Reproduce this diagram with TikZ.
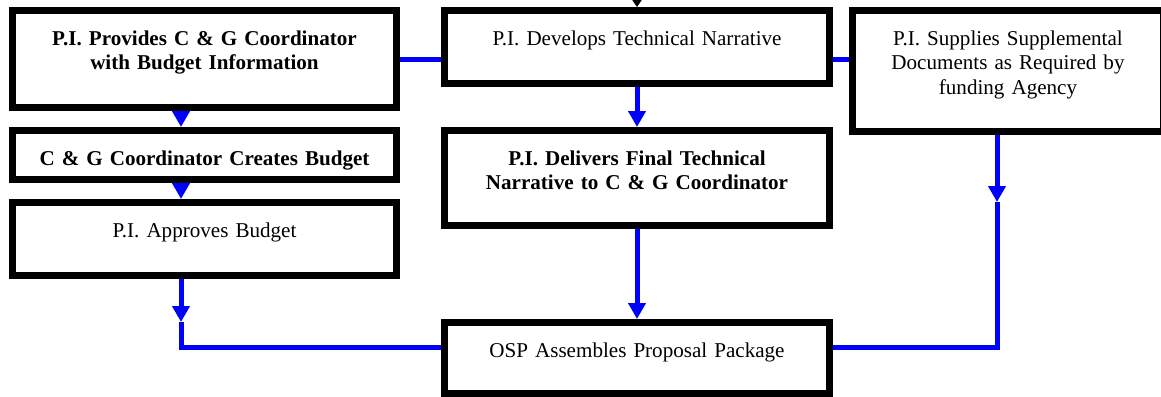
\documentclass[tikz,border=0pt]{standalone}
\usepackage{fontspec}
\setmainfont{Liberation Serif}
\usetikzlibrary{arrows.meta}

\begin{document}
\begin{tikzpicture}[x=0.2mm,y=-0.2mm,
  every node/.style={draw,line width=1.4mm,anchor=north west,inner sep=0pt,align=center,text height=0.69cm,font=\fontsize{12pt}{14.2pt}\selectfont},
  bold/.style={font=\fontsize{12pt}{14.2pt}\bfseries\selectfont},
  flow/.style={draw=blue,line width=1mm,-{Triangle[width=0.34cm,length=0.32cm]}},
  link/.style={draw=blue,line width=1mm}]
\useasboundingbox (0,0) rectangle (1161,396);

% budget side
\path (9,7) node(b1)[bold,text width=7.68cm,text depth=1.25cm]{P.I. Provides C \& G Coordinator\\with Budget Information}
 (9,127) node(b2)[bold,text width=7.68cm,text depth=0.29cm]{C \& G Coordinator Creates Budget}
 (9,199) node(b3)[text width=7.68cm,text depth=0.77cm]{P.I. Approves Budget};
% narrative side
\path (441,7) node(b4)[text width=7.70cm,text depth=0.77cm]{P.I. Develops Technical Narrative}
 (441,127) node(b5)[bold,text width=7.70cm,text depth=1.21cm]{P.I. Delivers Final Technical\\Narrative to C \& G Coordinator}
 (441,319) node(b6)[text width=7.70cm,text depth=0.73cm]{OSP Assembles Proposal Package}
 (849,7) node(b7)[text width=6.22cm,text depth=1.73cm]{P.I. Supplies Supplemental\\Documents as Required by\\funding Agency};

\coordinate (lx) at (181,0);
\coordinate (rx) at (997,0);
\coordinate (t0) at (637,-30);
\coordinate (c1) at (181,322);
\coordinate (c2) at (181,347);
\coordinate (c3) at (997,202);
\coordinate (c4) at (997,347);

\draw[line width=0.4pt,-{Triangle[width=0.24cm,length=0.18cm]}] (t0) -- (b4.north);
\draw[flow] (b1.south -| lx) -- (b2.north -| lx);
\draw[flow] (b2.south -| lx) -- (b3.north -| lx);
\draw[flow] (b3.south -| lx) -- (c1);
\draw[link] (c1) -- (c2) -- (c2 -| b6.west);
\draw[flow] (b4.south) -- (b5.north);
\draw[flow] (b5.south) -- (b6.north);
\draw[link] (b1.east) -- (b1.east -| b4.west);
\draw[link] (b4.east |- b1.east) -- (b7.west |- b1.east);
\draw[flow] (b7.south -| rx) -- (c3);
\draw[link] (c3) -- (c4) -- (c4 -| b6.east);
\end{tikzpicture}
\end{document}
